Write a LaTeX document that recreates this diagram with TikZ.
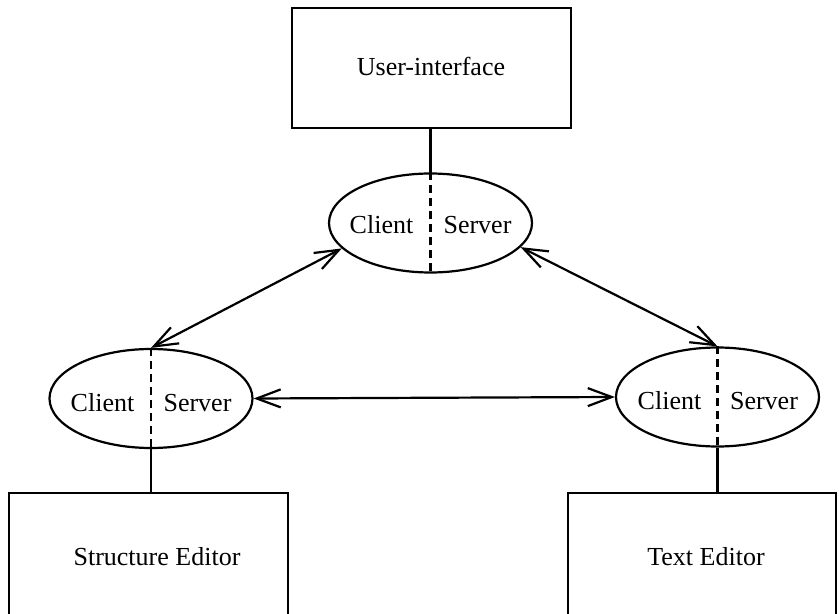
\documentclass[tikz,border=0pt]{standalone}
\usepackage{fontspec}
\setmainfont{Liberation Serif}
\usetikzlibrary{shapes.geometric,arrows.meta}
\begin{document}
\begin{tikzpicture}[x=0.5pt,y=-0.5pt,
  every node/.style={font=\fontsize{13}{15}\selectfont},
  box/.style={draw,line width=1.1pt,rectangle,inner sep=0pt},
  cs/.style={draw,line width=1.1pt,ellipse,inner sep=0pt,minimum width=101.5pt,minimum height=49.5pt},
  lbl/.style={inner sep=0pt,anchor=base},
  link/.style={line width=1.1pt},
  split/.style={line width=1.1pt,dash pattern=on 4pt off 2.5pt},
  biarrow/.style={line width=1.1pt,{Straight Barb[length=12pt,width=9pt]}-{Straight Barb[length=12pt,width=9pt]}}]
\clip (0,0) rectangle (839,614);
\fill[white] (0,0) rectangle (839,614);
% boxes
\node[box,minimum width=139.5pt,minimum height=60pt] (ui) at (431.5,68) {};
\node[box,minimum width=139.5pt,minimum height=61.5pt] (se) at (148.5,554.5) {};
\node[box,minimum width=134pt,minimum height=61.5pt] (te) at (702,554.5) {};
\node[lbl] (uit) at (431,76) {User-interface};
\node[lbl] (set) at (157,565) {Structure Editor};
\node[lbl] (tet) at (706,565) {Text Editor};
% ellipses
\node[cs] (T) at (430.5,223) {};
\node[cs] (L) at (151,398.5) {};
\node[cs] (R) at (717.5,397) {};
\node[lbl] (Tc) at (381.5,234) {Client};
\node[lbl] (Ts) at (477.5,234) {Server};
\node[lbl] (Lc) at (102.5,411) {Client};
\node[lbl] (Ls) at (197.5,411) {Server};
\node[lbl] (Rc) at (669.5,409) {Client};
\node[lbl] (Rs) at (764,409) {Server};
% dashed splits
\draw[split] (T.north) -- (T.south);
\draw[split] (L.north) -- (L.south);
\draw[split] (R.north) -- (R.south);
% vertical links
\draw[link] (T.north |- ui.south) -- (T.north);
\draw[link] (L.south) -- (L.south |- se.north);
\draw[link] (R.south) -- (R.south |- te.north);
% arrows
\draw[biarrow] (T.196) -- (L.north);
\draw[biarrow] (T.345) -- (R.north);
\draw[biarrow] (L.east) -- (R.west);
\end{tikzpicture}
\end{document}
